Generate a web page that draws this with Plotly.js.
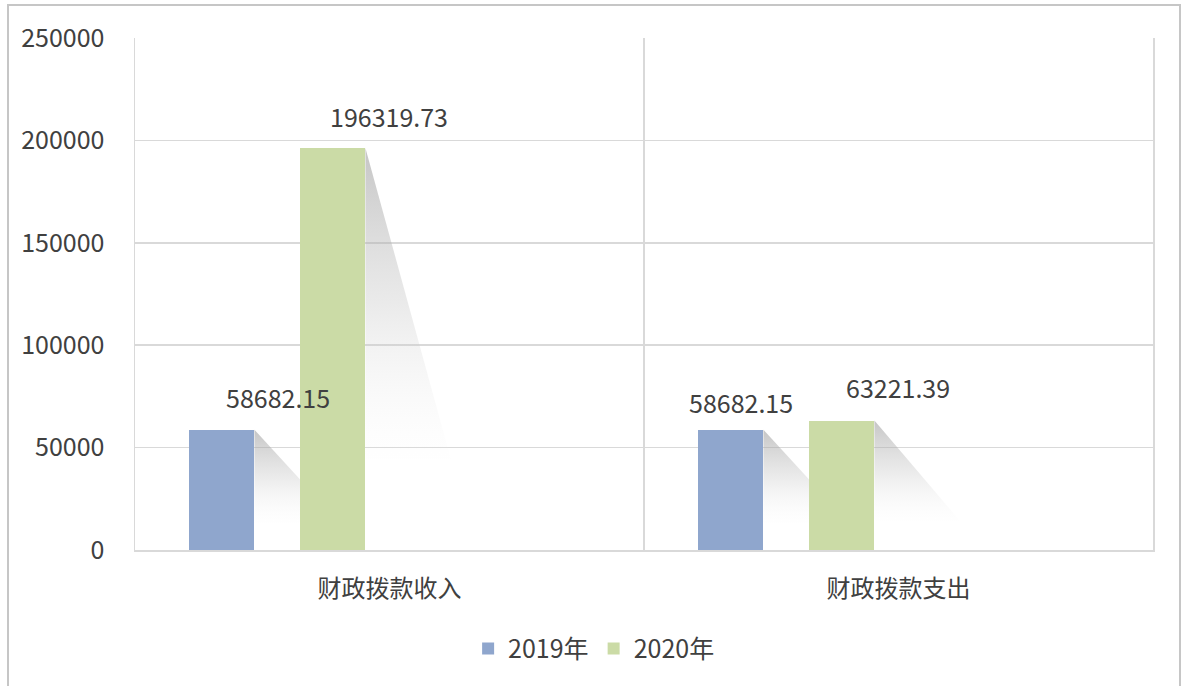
<!DOCTYPE html>
<html>
<head>
<meta charset="utf-8">
<script src="https://cdn.plot.ly/plotly-3.0.1.min.js"></script>
<style>
  html, body { margin: 0; padding: 0; background: #ffffff; }
  #wrap { position: relative; width: 1184px; height: 686px; overflow: hidden; }
  #frame { position: absolute; left: 7px; top: 4px; width: 1174px; height: 720px;
           border: 2px solid #c6c6c6; box-sizing: border-box; pointer-events: none; }
  #chart { position: absolute; left: 0; top: 0; width: 1184px; height: 686px; }
</style>
</head>
<body>
<div id="wrap">
  <div id="chart"></div>
  <div id="frame"></div>
</div>
<script>
// ---- data ----
const categories = ['财政拨款收入', '财政拨款支出'];
const seriesNames = ['2019年', '2020年'];
const values2019 = [58682.15, 58682.15];
const values2020 = [196319.73, 63221.39];
const yTickVals = [0, 50000, 100000, 150000, 200000, 250000];
const yTickText = ['0', '50000', '100000', '150000', '200000', '250000'];

// ---- styles ----
const FONT = 'Noto Sans CJK SC, Open Sans, sans-serif';
const TXT = '#404040';
const GRID = '#d9d9d9';
const colors = ['#8fa6cd', '#cbdba6'];
const BAR_W = 0.1287;
const barOffsets = [-0.394, -0.176];       // left edge relative to category centre
const SH_DX = 0.168;                       // shadow horizontal reach (axis units)
const SH_K = 0.225;                        // shadow foot height as share of value
const labelShiftX = [[56, 56], [10, 56]];  // [category][series] pixel shift from bar centre
const labelShiftY = [[33, 32], [28, 34]];

const allValues = [values2019, values2020];

const traces = [];
// shadows (drawn on the base numeric axis, beneath the bars)
allValues.forEach((vals, s) => {
  vals.forEach((v, i) => {
    const xr = i + barOffsets[s] + BAR_W;
    traces.push({
      type: 'scatter', mode: 'lines', xaxis: 'x', yaxis: 'y',
      x: [xr, xr + SH_DX, xr, xr],
      y: [v, v * SH_K, v * SH_K, v],
      fill: 'toself',
      line: { width: 0, color: 'rgba(0,0,0,0)' },
      fillgradient: { type: 'vertical',
        colorscale: [[0, 'rgba(240,240,240,0.04)'], [0.5, 'rgba(190,190,190,0.32)'], [1, 'rgba(150,150,150,0.55)']] },
      hoverinfo: 'skip', showlegend: false
    });
  });
});
// bars on the overlaying category axis
allValues.forEach((vals, s) => {
  traces.push({
    type: 'bar', xaxis: 'x2', yaxis: 'y',
    name: seriesNames[s],
    x: categories, y: vals,
    width: BAR_W, offset: barOffsets[s],
    marker: { color: colors[s], line: { width: 0 } },
    hoverinfo: 'name+y'
  });
});

const annotations = [];
allValues.forEach((vals, s) => {
  vals.forEach((v, i) => {
    annotations.push({
      xref: 'x', yref: 'y',
      x: i + barOffsets[s] + BAR_W / 2, y: v,
      xshift: labelShiftX[i][s], yshift: labelShiftY[i][s],
      text: v.toFixed(2), showarrow: false,
      xanchor: 'center', yanchor: 'middle',
      font: { family: FONT, size: 25, color: TXT }
    });
  });
});

const layout = {
  width: 1184, height: 686,
  margin: { l: 135, r: 31, t: 38, b: 136, pad: 0 },
  paper_bgcolor: 'rgba(0,0,0,0)', plot_bgcolor: 'rgba(0,0,0,0)',
  font: { family: FONT, color: TXT, size: 24 },
  showlegend: true,
  legend: { orientation: 'h', x: 0.451, xanchor: 'center', y: -0.193, yanchor: 'middle',
            font: { family: FONT, size: 25, color: TXT }, itemwidth: 30, traceorder: 'normal' },
  xaxis: { range: [-0.5, 1.5], visible: false, fixedrange: true },
  xaxis2: { overlaying: 'x', type: 'category', range: [-0.5, 1.5],
            tickson: 'boundaries', showgrid: true, gridcolor: GRID, gridwidth: 1.5,
            showline: true, linecolor: GRID, linewidth: 1.5,
            ticks: '', ticklabelstandoff: 17, side: 'bottom',
            tickfont: { family: FONT, size: 24, color: TXT } },
  yaxis: { range: [0, 250000], tickmode: 'array', tickvals: yTickVals, ticktext: yTickText,
           showgrid: true, gridcolor: GRID, gridwidth: 1.5, zeroline: false,
           showline: true, mirror: true, linecolor: GRID, linewidth: 1.5,
           ticks: '', ticklabelstandoff: 24,
           tickfont: { family: FONT, size: 25, color: TXT } },
  annotations: annotations,
  bargap: 0, barmode: 'overlay'
};

Plotly.newPlot('chart', traces, layout, { displayModeBar: false, staticPlot: true });
</script>
</body>
</html>
